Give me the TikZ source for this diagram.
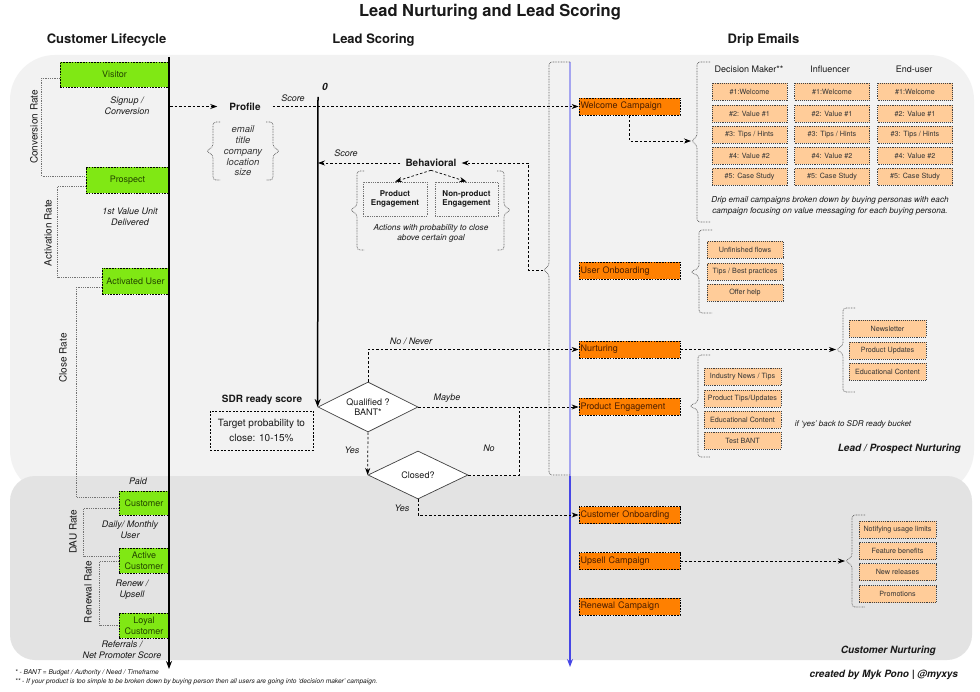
\documentclass[tikz,border=0pt]{standalone}
\usepackage{fontspec}
\setmainfont{TeX Gyre Heros}
\usetikzlibrary{arrows.meta,shapes.geometric}
\definecolor{panelA}{RGB}{242,242,242}
\definecolor{panelB}{RGB}{227,227,227}
\definecolor{lime}{RGB}{128,232,20}
\definecolor{orng}{RGB}{255,128,0}
\definecolor{lorng}{RGB}{255,204,153}
\definecolor{bluel}{RGB}{165,165,240}
\definecolor{blued}{RGB}{70,70,230}
\definecolor{txt}{RGB}{25,25,25}
\definecolor{lctext}{RGB}{35,70,0}
\definecolor{driptext}{RGB}{75,30,0}
\newcommand\DrawBrace[6]{%
  \draw[brc] ({#1+(#5)},#2) -- (#1,#2) -- (#1,{#4-4}) -- ({#1-(#6)},#4) -- (#1,{#4+4}) -- (#1,#3) -- ({#1+(#5)},#3);}
\begin{document}
\begin{tikzpicture}[x=1pt,y=-1pt,
  every node/.style={text=txt},
  lc/.style={draw=black, dash pattern=on 1.6pt off 1.2pt, line width=0.8pt, fill=lime, inner sep=0pt, align=center, font=\fontsize{9}{11}\selectfont, text=lctext},
  drip/.style={draw=black, dash pattern=on 1.6pt off 1.2pt, line width=0.8pt, fill=orng, minimum height=17pt, text width=98pt, inner xsep=1.5pt, inner ysep=0pt, align=left, font=\fontsize{9}{10}\selectfont, text=driptext},
  mitem/.style={draw=black!75, dash pattern=on 1pt off 0.9pt, line width=0.7pt, fill=lorng, minimum height=17pt, inner sep=0pt, font=\fontsize{7.2}{8}\selectfont, text=black!80},
  lbl/.style={font=\fontsize{9}{11}\selectfont\itshape, align=center},
  rate/.style={draw=black!55, dash pattern=on 0.7pt off 1.1pt, line width=0.6pt},
  ratelabel/.style={font=\fontsize{10}{11}\selectfont, rotate=90},
  dl/.style={draw=black, dash pattern=on 2.5pt off 2pt, line width=0.7pt},
  da/.style={dl, -{Stealth[length=7pt,width=5pt]}},
  brc/.style={draw=black!60, dash pattern=on 0.8pt off 0.8pt, line width=0.7pt, rounded corners=3pt},
  eng/.style={draw=black!55, dash pattern=on 0.8pt off 1pt, line width=0.7pt, font=\bfseries\fontsize{8}{9.5}\selectfont, align=center, minimum height=34pt, inner sep=0pt},
  dia/.style={shape=diamond, draw=black!75, line width=0.7pt, fill=white, aspect=2, inner sep=0pt, font=\fontsize{9}{10.5}\selectfont, align=center},
  hdr/.style={font=\bfseries\fontsize{13}{15}\selectfont},
  bolditl/.style={font=\bfseries\itshape\fontsize{10}{12}\selectfont, anchor=east, inner sep=0pt}
]
\fill[white] (0,0) rectangle (980,692);
\useasboundingbox (0,0) rectangle (980,692);
% panels
\fill[panelA, rounded corners=45pt] (10,55) rectangle (974,495);
\fill[panelB, rounded corners=25pt] (10,476) rectangle (972,660);

% titles
\node[font=\bfseries\fontsize{16.5}{19}\selectfont] (title) at (490,12) {Lead Nurturing and Lead Scoring};
\node[hdr] (h1) at (106.5,40) {Customer Lifecycle};
\node[hdr] (h2) at (373.5,40) {Lead Scoring};
\node[hdr] (h3) at (763.5,40) {Drip Emails};

% blue line
\coordinate (bTop) at (570,62);
\coordinate (bMid) at (570,476);
\coordinate (bBot) at (570,667);
\draw[bluel, line width=1.3pt] (bTop) -- (bMid);
\draw[blued, line width=1.5pt, -{Stealth[length=8pt,width=6pt]}] (bMid) -- (bBot);

% lifecycle boxes
\node[lc, minimum width=109pt, minimum height=25pt] (visitor) at (114.5,74.5) {Visitor};
\node[lc, minimum width=83pt, minimum height=26pt] (prospect) at (127.5,180) {Prospect};
\node[lc, minimum width=67pt, minimum height=26pt] (activated) at (135.5,281) {Activated User};
\node[lc, minimum width=50pt, minimum height=24pt] (customer) at (144,503) {Customer};
\node[lc, minimum width=50pt, minimum height=25pt] (active) at (144,560.5) {Active\\Customer};
\node[lc, minimum width=50pt, minimum height=25pt] (loyal) at (144,625.5) {Loyal\\Customer};

% rate connectors
\draw[rate] ([yshift=-3.5pt]visitor.west) -- ++(-18,0) |- ([yshift=4pt]prospect.west);
\draw[rate] ([yshift=-6pt]prospect.west) -- ++(-28,0) |- ([yshift=4pt]activated.west);
\draw[rate] ([yshift=-6pt]activated.west) -- ++(-25,0) |- ([yshift=6pt]customer.west);
\draw[rate] ([yshift=-5pt]customer.west) -- ++(-35,0) |- ([yshift=4.5pt]active.west);
\draw[rate] ([yshift=-0.5pt]active.west) -- ++(-19,0) |- ([yshift=0.5pt]loyal.west);
\node[ratelabel] (r1) at (34,127) {Conversion Rate};
\node[ratelabel] (r2) at (48,233) {Activation Rate};
\node[ratelabel] (r3) at (63,358) {Close Rate};
\node[ratelabel] (r4) at (73,532) {DAU Rate};
\node[ratelabel] (r5) at (88,592) {Renewal Rate};

% lifecycle labels
\node[lbl] (l1) at (127,105.5) {Signup /\\Conversion};
\node[lbl] (l2) at (130,217) {1st Value Unit\\Delivered};
\node[lbl] (l3) at (138,481) {Paid};
\node[lbl] (l4) at (130,529.5) {Daily/ Monthly\\User};
\node[lbl] (l5) at (132,589.5) {Renew /\\Upsell};
\node[lbl] (l6) at (122,649.5) {Referrals /\\Net Promoter Score};

% lifecycle axis
\coordinate (lcTop) at (169,57);
\coordinate (lcBot) at (169,669);
\draw[line width=1.5pt, -{Stealth[length=8pt,width=6pt]}] (lcTop) -- (lcBot);

% drip boxes
\node[drip] (welcome) at (629.5,106.5) {Welcome Campaign};
\node[drip] (useron) at (629.5,271) {User Onboarding};
\node[drip] (nurt) at (629.5,349.5) {Nurturing};
\node[drip] (pengage) at (629.5,407) {Product Engagement};
\node[drip] (custon) at (629.5,515) {Customer Onboarding};
\node[drip] (upsell) at (629.5,561) {Upsell Campaign};
\node[drip] (renewal) at (629.5,606.5) {Renewal Campaign};

% lead scoring: profile
\node[font=\bfseries\fontsize{10}{12}\selectfont, inner xsep=12pt] (profile) at (245,106.5) {Profile};
\coordinate (sig) at (170,106.5);
\draw[da] (sig) -- (profile.west);
\draw[da] (profile.east) -- (welcome.west);
\node[lbl] (sc1) at (293,98) {Score};
\node[font=\bfseries\itshape\fontsize{10}{12}\selectfont] (zero) at (325,87) {0};
\node[font=\itshape\fontsize{9.5}{10.8}\selectfont, align=center, text=black!80] (pdet) at (243,151) {email\\title\\company\\location\\size};
\DrawBrace{213}{122}{180}{151}{7}{7}
\DrawBrace{273}{122}{180}{151}{-7}{-7}

% behavioral
\node[font=\bfseries\fontsize{10}{12}\selectfont, inner xsep=5pt] (behav) at (431,163) {Behavioral};
\node[lbl] (sc2) at (346,153) {Score};
\coordinate (scl) at (318,163);
\draw[da] (behav.west) -- (scl);
\node[eng, minimum width=64pt] (pe1) at (395,199) {Product\\Engagement};
\node[eng, minimum width=63pt] (pe2) at (466.5,199) {Non-product\\Engagement};
\draw[da] (behav.south) -- (pe1.north);
\draw[da] (behav.south) -- (pe2.north);
\node[font=\itshape\fontsize{8.3}{10}\selectfont, align=center] (acts) at (431,233.5) {Actions with probability to close\\above certain goal};
\DrawBrace{357}{171}{250}{210}{7}{7}
\DrawBrace{504}{171}{250}{210}{-7}{-7}

% big brace
\DrawBrace{549}{62}{475}{270}{21}{6}
\coordinate (bigTip) at (543,270);
\draw[da] (bigTip) -- ++(-15,0) |- (behav.east);

% SDR
\node[font=\bfseries\fontsize{10}{12}\selectfont] (sdr) at (262,400) {SDR ready score};
\node[draw=black, dash pattern=on 2pt off 1.5pt, line width=0.7pt, minimum width=103pt, minimum height=39pt, align=center, font=\fontsize{10}{15}\selectfont, inner sep=0pt] (target) at (261.5,430.5) {Target probability to\\close: 10-15\%};

% decisions
\node[dia, minimum width=100pt, minimum height=50pt] (qual) at (368,407) {Qualified ?\\BANT*};
\node[dia, minimum width=100pt, minimum height=48pt] (closed) at (418,475) {Closed?};
\coordinate (scoreTop) at (318,97);
\draw[line width=1.5pt, -{Stealth[length=8pt,width=6pt]}] (scoreTop) -- (qual.west);
\coordinate (nojoin) at (519,407);
\draw[da] (qual.north) |- (nurt.west);
\draw[da] (qual.east) -- (pengage.west);
\draw[da] (qual.south) -- (closed.west);
\draw[dl] (closed.east) -| (nojoin);
\draw[da] (closed.south) |- (custon.west);
\node[lbl] (t1) at (411,341) {No / Never};
\node[lbl] (t2) at (447,398) {Maybe};
\node[lbl] (t3) at (352,450) {Yes};
\node[lbl] (t4) at (489,448) {No};
\node[lbl] (t5) at (402,508) {Yes};

% personas
\node[font=\fontsize{9}{10}\selectfont] (ph1) at (749,69.5) {Decision Maker**};
\node[font=\fontsize{9}{10}\selectfont] (ph2) at (830,69.5) {Influencer};
\node[font=\fontsize{9}{10}\selectfont] (ph3) at (914,69.5) {End-user};
\node[mitem, minimum width=75pt] (pa1) at (749.5,91.5) {\#1:Welcome};
\node[mitem, minimum width=75pt] (pa2) at (749.5,113.5) {\#2: Value \#1};
\node[mitem, minimum width=75pt] (pa3) at (749.5,134.5) {\#3: Tips / Hints};
\node[mitem, minimum width=75pt] (pa4) at (749.5,155.5) {\#4: Value \#2};
\node[mitem, minimum width=75pt] (pa5) at (749.5,177) {\#5: Case Study};
\node[mitem, minimum width=75pt] (pb1) at (832,91.5) {\#1:Welcome};
\node[mitem, minimum width=75pt] (pb2) at (832,113.5) {\#2: Value \#1};
\node[mitem, minimum width=75pt] (pb3) at (832,134.5) {\#3: Tips / Hints};
\node[mitem, minimum width=75pt] (pb4) at (832,155.5) {\#4: Value \#2};
\node[mitem, minimum width=75pt] (pb5) at (832,177) {\#5: Case Study};
\node[mitem, minimum width=75pt] (pc1) at (915,91.5) {\#1:Welcome};
\node[mitem, minimum width=75pt] (pc2) at (915,113.5) {\#2: Value \#1};
\node[mitem, minimum width=75pt] (pc3) at (915,134.5) {\#3: Tips / Hints};
\node[mitem, minimum width=75pt] (pc4) at (915,155.5) {\#4: Value \#2};
\node[mitem, minimum width=75pt] (pc5) at (915,177) {\#5: Case Study};
\node[font=\itshape\fontsize{8.2}{11}\selectfont, align=center] (perstext) at (830,205.5) {Drip email campaigns broken down by buying personas with each\\campaign focusing on value messaging for each buying persona.};
\DrawBrace{697}{62}{222}{141}{13}{6}
\coordinate (persTip) at (691,141);
\draw[da] (welcome.south) |- (persTip);

% user onboarding
\node[mitem, minimum width=76pt] (u1) at (745,250) {Unfinished flows};
\node[mitem, minimum width=76pt] (u2) at (745,272) {Tips / Best practices};
\node[mitem, minimum width=76pt] (u3) at (745,292.5) {Offer help};
\DrawBrace{699}{230}{313}{272}{13}{9}

% nurturing
\node[mitem, minimum width=77pt] (n1) at (887.5,328.5) {Newsletter};
\node[mitem, minimum width=77pt] (n2) at (887.5,350.5) {Product Updates};
\node[mitem, minimum width=77pt] (n3) at (887.5,372) {Educational Content};
\DrawBrace{843}{308}{392}{349.5}{12}{7}
\coordinate (nurtTip) at (836,349.5);
\draw[da] (nurt.east) -- (nurtTip);

% product engagement
\node[mitem, minimum width=77pt] (e1) at (742.5,377) {Industry News / Tips};
\node[mitem, minimum width=77pt] (e2) at (742.5,398.5) {Product Tips/Updates};
\node[mitem, minimum width=77pt] (e3) at (742.5,419.5) {Educational Content};
\node[mitem, minimum width=77pt] (e4) at (742.5,440.5) {Test BANT};
\DrawBrace{698}{355}{457}{406}{12}{9}
\node[font=\itshape\fontsize{8}{10}\selectfont] (ifyes) at (853,424) {if `yes' back to SDR ready bucket};
\node[bolditl] (lpn) at (961,449) {Lead / Prospect Nurturing};

% upsell
\node[mitem, minimum width=77pt] (s1) at (897.5,529.5) {Notifying usage limits};
\node[mitem, minimum width=77pt] (s2) at (897.5,551) {Feature benefits};
\node[mitem, minimum width=77pt] (s3) at (897.5,572) {New releases};
\node[mitem, minimum width=77pt] (s4) at (897.5,594) {Promotions};
\DrawBrace{852}{515}{607}{561}{13}{7}
\coordinate (upTip) at (845,561);
\draw[da] (upsell.east) -- (upTip);
\node[bolditl] (cn) at (936,651) {Customer Nurturing};
\node[bolditl] (credit) at (958,675) {created by Myk Pono | @myxys};

% footnotes
\node[anchor=west, inner sep=0pt, font=\itshape\fontsize{6.6}{8}\selectfont] (f1) at (15,673) {* - BANT = Budget / Authority / Need / Timeframe};
\node[anchor=west, inner sep=0pt, font=\itshape\fontsize{6.6}{8}\selectfont] (f2) at (15,682) {** - If your product is too simple to be broken down by buying person then all users are going into `decision maker' campaign.};
\end{tikzpicture}
\end{document}
